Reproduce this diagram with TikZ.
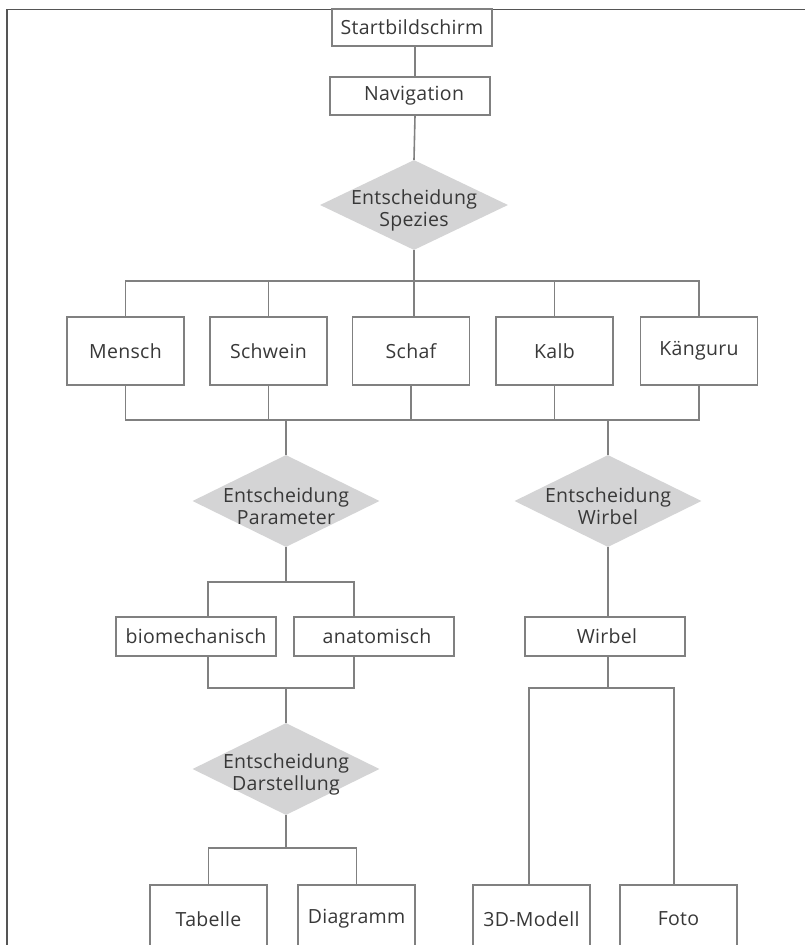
\documentclass[tikz,border=0pt]{standalone}
\usepackage{fontspec}
\setmainfont[LetterSpace=1.5]{Open Sans}
\usetikzlibrary{shapes.geometric}
\definecolor{linecol}{HTML}{808080}
\definecolor{framecol}{HTML}{555555}
\definecolor{txtcol}{HTML}{383838}
\definecolor{diafill}{HTML}{D4D4D5}
\tikzset{
  every node/.style={text=txtcol, font=\fontsize{19.5}{22}\selectfont, inner sep=0pt},
  box/.style={draw=linecol, line width=1.5pt, fill=white, rectangle},
  decision/.style={diamond, fill=diafill, draw=none, minimum width=187, minimum height=92},
  dtext/.style={align=center},
  conn/.style={draw=linecol, line width=1.6pt}
}
\begin{document}
\begin{tikzpicture}[x=1pt,y=-1pt]
\useasboundingbox (0,0) rectangle (805,945);
\clip (0,0) rectangle (805,945);
% frame
\draw[framecol, line width=1.5pt] (7,945) -- (7,9.5) -- (805,9.5);

% top
\node[box, minimum width=160, minimum height=37] (start) at (412,27.5) {Startbildschirm};
\node[box, minimum width=160, minimum height=38] (nav) at (410,96) {\hspace*{8pt}Navigation};
\node[decision, minimum width=188, minimum height=90] (spez) at (414,205) {};
\node[dtext] (spezt) at (414,210) {Entscheidung\\Spezies};

% animals
\node[box, minimum width=117, minimum height=68] (mensch) at (125.5,351) {Mensch};
\node[box, minimum width=117, minimum height=68] (schwein) at (268.5,351) {Schwein};
\node[box, minimum width=117, minimum height=68] (schaf) at (411,351) {Schaf};
\node[box, minimum width=117, minimum height=68] (kalb) at (554.5,351) {Kalb};
\node[box, minimum width=117, minimum height=68] (kang) at (699,351) {Känguru};

% decisions level 2
\node[decision] (param) at (286,501) {};
\node[dtext] (paramt) at (286,506) {Entscheidung\\Parameter};
\node[decision] (wdia) at (608,501) {};
\node[dtext] (wdiat) at (608,506) {Entscheidung\\Wirbel};

% level 3
\node[box, minimum width=160, minimum height=39] (bio) at (196,636.5) {biomechanisch};
\node[box, minimum width=160, minimum height=39] (anat) at (374,636.5) {\hspace*{6pt}anatomisch};
\node[box, minimum width=160, minimum height=39] (wbox) at (605,636.5) {\hspace*{4pt}Wirbel};

% decision Darstellung
\node[decision] (darst) at (286,769) {};
\node[dtext] (darstt) at (286,774) {Entscheidung\\Darstellung};

% bottom boxes
\node[box, minimum width=117, minimum height=68] (tab) at (208.5,919) {Tabelle};
\node[box, minimum width=117, minimum height=68] (diag) at (356.5,919) {Diagramm};
\node[box, minimum width=117, minimum height=68] (modell) at (531.5,919) {3D-Modell};
\node[box, minimum width=117, minimum height=68] (foto) at (678.5,919) {Foto};

% connectors top
\draw[conn] (start.south -| 415,0) -- (nav.north -| 415,0);
\draw[conn] (nav.south -| 415,0) -- (spez.north);

% bus to animals
\coordinate (b1) at (414,281);
\draw[conn] (spez.south) -- (b1);
\draw[conn] (mensch.north) |- (b1) -| (kang.north);
\draw[conn] (schwein.north) -- (schwein.north |- b1);
\draw[conn] (schaf.north -| b1) -- (b1);
\draw[conn] (kalb.north) -- (kalb.north |- b1);

% bus from animals
\coordinate (b2) at (286,420);
\coordinate (b3) at (608,420);
\draw[conn] (mensch.south) |- (b2) -- (b3) -| (kang.south);
\draw[conn] (schwein.south) -- (schwein.south |- b2);
\draw[conn] (schaf.south) -- (schaf.south |- b2);
\draw[conn] (kalb.south) -- (kalb.south |- b2);
\draw[conn] (b2) -- (param.north);
\draw[conn] (b3) -- (wdia.north);

% parameter branch
\coordinate (p1) at (208,582);
\coordinate (p2) at (354,582);
\draw[conn] (param.south) -- (param.south |- p1);
\draw[conn] (p1 |- bio.north) -- (p1) -- (p2) -- (p2 |- anat.north);
\coordinate (q1) at (208,688);
\coordinate (q2) at (354,688);
\draw[conn] (q1 |- bio.south) -- (q1) -- (q2) -- (q2 |- anat.south);
\draw[conn] (darst.north) -- (darst.north |- q1);

% darstellung branch
\coordinate (r) at (286,848);
\draw[conn] (darst.south) -- (r);
\draw[conn] (tab.north) |- (r) -| (diag.north);

% wirbel branch
\draw[conn] (wdia.south) -- (wdia.south |- wbox.north);
\coordinate (s) at (608,688);
\coordinate (s1) at (529,688);
\coordinate (s2) at (674,688);
\draw[conn] (s |- wbox.south) -- (s);
\draw[conn] (s1 |- modell.north) -- (s1) -- (s2) -- (s2 |- foto.north);
\end{tikzpicture}
\end{document}
